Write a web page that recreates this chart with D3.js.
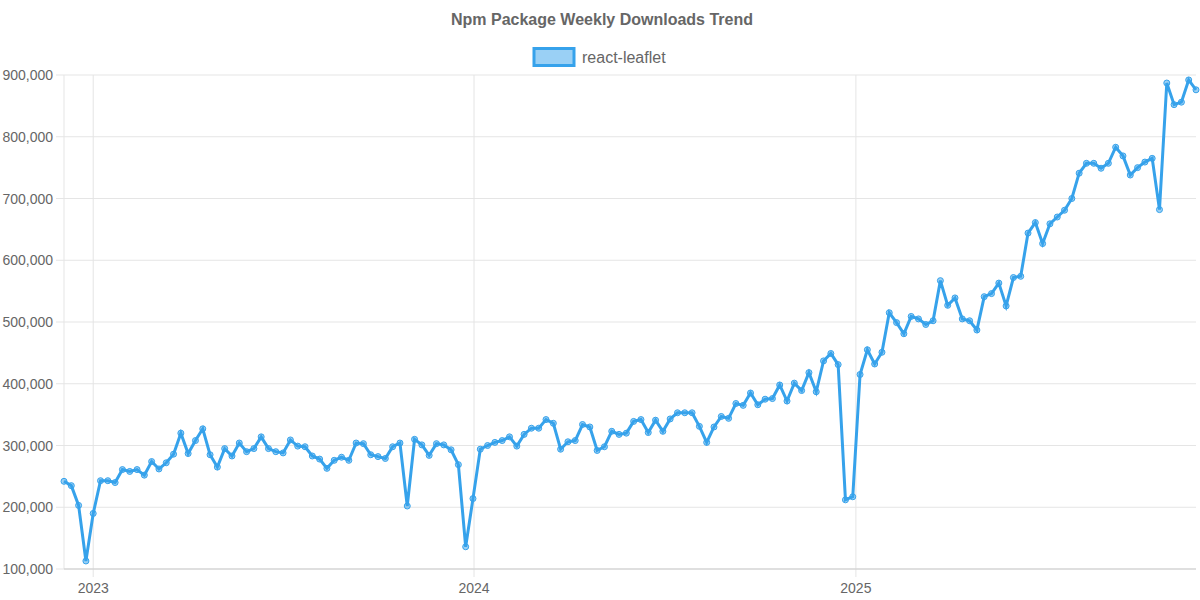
<!DOCTYPE html>
<html><head><meta charset="utf-8">
<script src="https://cdn.jsdelivr.net/npm/d3@7"></script>
<style>body{margin:0;background:#fff}svg{font-family:"Liberation Sans",Arial,sans-serif}</style>
</head><body><svg id="c" width="1200" height="600"></svg>
<script>
const seriesName = "react-leaflet";
const startDate = "2022-12-04";
const values = [242,235,203,113,190,243,243,240,261,258,261,252,274,262,272,286,320,287,308,327,285,265,295,283,304,290,295,314,295,290,288,309,299,298,283,278,263,276,281,276,304,303,285,282,279,298,304,202,310,301,284,303,301,293,269,136,214,294,300,305,308,314,299,318,328,328,342,336,294,306,308,334,330,292,298,323,318,320,339,342,321,341,323,343,353,353,353,331,305,330,347,344,368,365,385,366,375,376,398,372,401,389,418,387,437,449,431,212,217,415,455,432,451,515,499,481,509,505,496,502,567,527,539,505,502,487,541,546,563,526,572,574,644,661,627,659,670,681,700,741,757,757,749,757,783,769,738,750,759,765,682,887,852,856,892,876].map(v=>v*1000);
const yTicks = [100000,200000,300000,400000,500000,600000,700000,800000,900000];
const xTickYears = ["2023","2024","2025"];

const t0 = new Date(startDate+"T00:00:00");
const dates = values.map((v,i)=>d3.timeWeek.offset(t0,i));
const data = values.map((v,i)=>({d:dates[i],v}));

const svg = d3.select("#c");
const L=64,R=1196,T=75,B=569;
const x = d3.scaleTime().domain([dates[0],dates[dates.length-1]]).range([L,R]);
const y = d3.scaleLinear().domain([100000,900000]).range([B,T]);

svg.append("text").attr("x",602).attr("y",25).attr("text-anchor","middle")
  .attr("font-size",16).attr("font-weight","bold").attr("fill","#666").text("Npm Package Weekly Downloads Trend");
svg.append("rect").attr("x",534).attr("y",48.5).attr("width",40).attr("height",17)
  .attr("fill","rgba(54,162,235,0.5)").attr("stroke","#36a2eb").attr("stroke-width",3);
svg.append("text").attr("x",582).attr("y",63).attr("font-size",16).attr("fill","#666").text(seriesName);

const g = svg.append("g");
yTicks.forEach(t=>{
  g.append("line").attr("x1",56).attr("x2",R).attr("y1",y(t)).attr("y2",y(t)).attr("stroke","#e5e5e5");
  g.append("text").attr("x",53).attr("y",y(t)+5).attr("text-anchor","end").attr("font-size",14).attr("fill","#666")
   .text(d3.format(",")(t));
});
g.append("line").attr("x1",L).attr("x2",L).attr("y1",T).attr("y2",B).attr("stroke","#e5e5e5");
xTickYears.forEach(yr=>{
  const xx = x(new Date(yr+"-01-01T00:00:00"));
  g.append("line").attr("x1",xx).attr("x2",xx).attr("y1",T).attr("y2",B+8).attr("stroke","#e5e5e5");
  g.append("text").attr("x",xx).attr("y",B+24).attr("text-anchor","middle").attr("font-size",14).attr("fill","#666").text(yr);
});
g.append("line").attr("x1",L).attr("x2",R).attr("y1",B).attr("y2",B).attr("stroke","#ccc");

svg.append("path").datum(data).attr("fill","none").attr("stroke","#36a2eb").attr("stroke-width",3)
  .attr("stroke-linejoin","miter")
  .attr("d",d3.line().x(d=>x(d.d)).y(d=>y(d.v)));
svg.selectAll("circle").data(data).join("circle").attr("cx",d=>x(d.d)).attr("cy",d=>y(d.v)).attr("r",3)
  .attr("fill","rgba(54,162,235,0.5)").attr("stroke","#36a2eb").attr("stroke-width",1);
</script></body></html>
